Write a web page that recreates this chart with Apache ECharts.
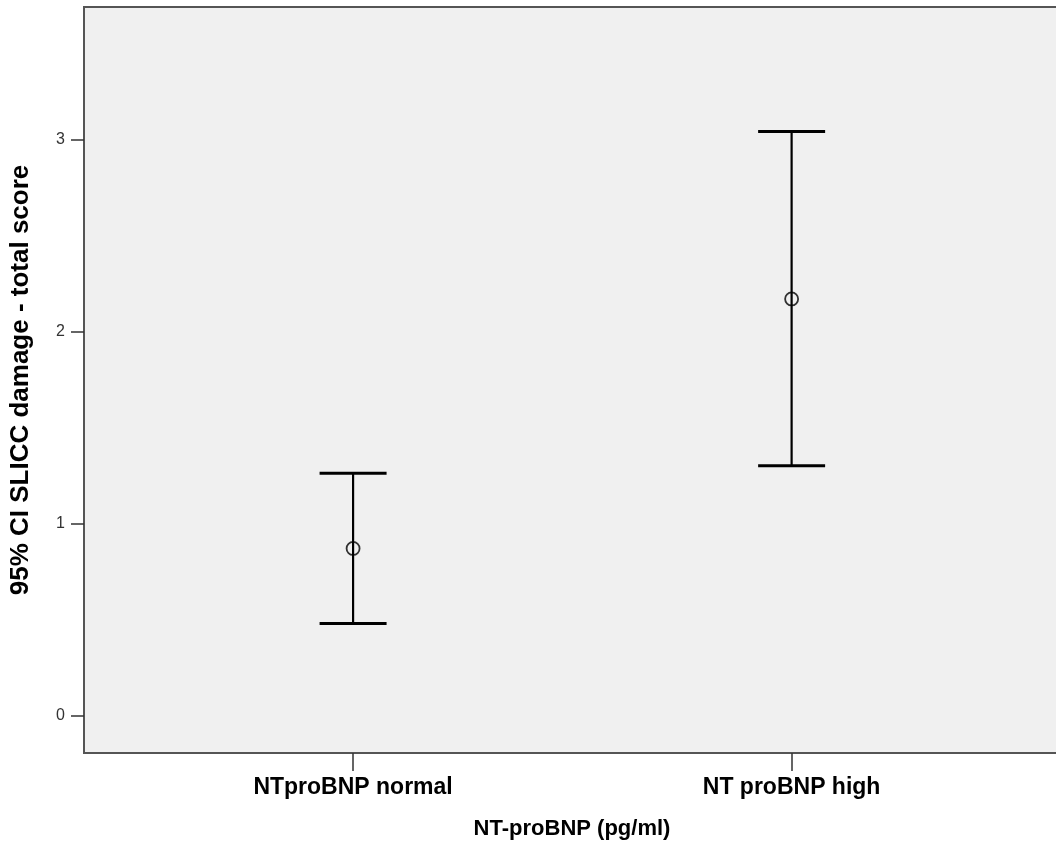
<!DOCTYPE html>
<html>
<head>
<meta charset="utf-8">
<script src="https://cdn.jsdelivr.net/npm/echarts@6/dist/echarts.min.js"></script>
<style>html,body{margin:0;padding:0;background:#fff}#c{width:1056px;height:850px}</style>
</head>
<body>
<div id="c"></div>
<script>
var categories = ['NTproBNP normal', 'NT proBNP high'];
var positions = [1, 2];
var means = [0.872, 2.171];
var lowerCI = [0.481, 1.303];
var upperCI = [1.263, 3.043];
var yTicks = [0, 1, 2, 3];

var chart = echarts.init(document.getElementById('c'), null, {renderer: 'canvas'});
var errData = positions.map(function (p, i) { return [p, lowerCI[i], upperCI[i]]; });
var meanData = positions.map(function (p, i) { return [p, means[i]]; });
var font = 'Arial, "Liberation Sans", sans-serif';

chart.setOption({
  animation: false,
  backgroundColor: '#ffffff',
  grid: {
    left: 84, top: 7, right: -4, bottom: 97,
    outerBoundsMode: 'none', containLabel: false,
    show: true, backgroundColor: '#f0f0f0', borderColor: '#555555', borderWidth: 2
  },
  xAxis: {
    type: 'value', min: 0.3864, max: 2.612,
    name: 'NT-proBNP (pg/ml)', nameLocation: 'middle', nameGap: 65,
    nameTextStyle: {fontFamily: font, fontWeight: 'bold', fontSize: 22, color: '#000'},
    splitLine: {show: false},
    axisLine: {show: true, onZero: false, lineStyle: {color: '#555555', width: 2}},
    axisTick: {show: true, customValues: positions, length: 18, lineStyle: {color: '#333', width: 1.5}},
    axisLabel: {
      customValues: positions, margin: 23,
      fontFamily: font, fontWeight: 'bold', fontSize: 23, color: '#000',
      formatter: function (v) { var i = positions.indexOf(v); return i >= 0 ? categories[i] : ''; }
    }
  },
  yAxis: {
    type: 'value', min: -0.193, max: 3.691,
    name: '95% CI SLICC damage - total score', nameLocation: 'middle', nameGap: 50,
    nameTextStyle: {fontFamily: font, fontWeight: 'bold', fontSize: 26, color: '#000'},
    splitLine: {show: false},
    axisLine: {show: true, onZero: false, lineStyle: {color: '#555555', width: 2}},
    axisTick: {show: true, customValues: yTicks, length: 13, lineStyle: {color: '#333', width: 1.5}},
    axisLabel: {customValues: yTicks, margin: 19, fontFamily: font, fontSize: 16, color: '#333'}
  },
  series: [
    {
      type: 'custom',
      data: errData,
      encode: {x: 0, y: [1, 2]},
      renderItem: function (params, api) {
        var x = api.value(0);
        var lo = api.coord([x, api.value(1)]);
        var hi = api.coord([x, api.value(2)]);
        var hw = 33.5;
        return {
          type: 'group',
          children: [
            {type: 'line', shape: {x1: lo[0], y1: lo[1], x2: hi[0], y2: hi[1]}, style: {stroke: '#000', lineWidth: 2.2}},
            {type: 'line', shape: {x1: lo[0] - hw, y1: lo[1], x2: lo[0] + hw, y2: lo[1]}, style: {stroke: '#000', lineWidth: 3}},
            {type: 'line', shape: {x1: hi[0] - hw, y1: hi[1], x2: hi[0] + hw, y2: hi[1]}, style: {stroke: '#000', lineWidth: 3}}
          ]
        };
      },
      z: 2
    },
    {
      type: 'scatter',
      data: meanData,
      symbol: 'circle',
      symbolSize: 13,
      itemStyle: {color: 'rgba(0,0,0,0)', borderColor: '#000', borderWidth: 1.8},
      z: 3
    }
  ]
});
</script>
</body>
</html>
